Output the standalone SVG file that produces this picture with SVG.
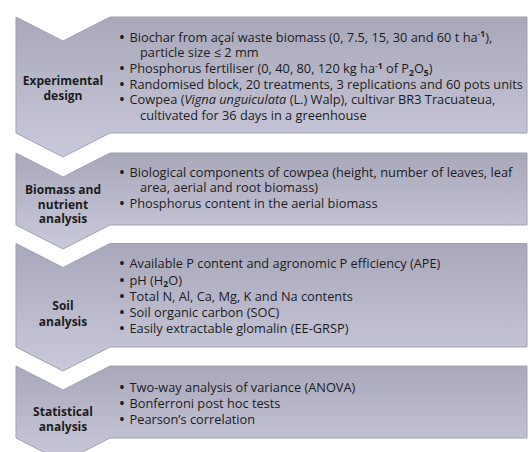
<svg xmlns="http://www.w3.org/2000/svg" width="530" height="452" viewBox="0 0 530 452">
<defs>
<linearGradient id="g" x1="0" y1="0" x2="0" y2="1">
<stop offset="0" stop-color="#a9a8bb"/>
<stop offset="1" stop-color="#c9c9db"/>
</linearGradient>
<style>
.blk{fill:url(#g);stroke:#a2a1b0;stroke-width:1}
text{font-family:"Open Sans","Noto Sans","DejaVu Sans",sans-serif;font-size:12.8px;fill:#1c1c1c}
.lbl{font-weight:bold;text-anchor:middle;font-size:12px}
.bul{text-anchor:middle;font-weight:bold}
.sup{font-size:8.5px}
.b{font-weight:bold}
</style>
</defs>
<rect width="530" height="452" fill="#ffffff"/>
<g id="experimental-design">
<path class="blk" d="M16,17 L63,41 L110,17 L527,17 L527,133 L110,133 L63,157 L16,133 Z"/>
<text class="lbl" x="63" y="84.5">Experimental</text>
<text class="lbl" x="63" y="100">design</text>
<text class="bul" x="122" y="41.5">•</text>
<text x="129.5" y="41.5">Biochar from açaí waste biomass (0, 7.5, 15, 30 and 60 t ha<tspan class="sup" dy="-4.5">-<tspan class="b">1</tspan></tspan><tspan dy="4.5">),</tspan></text>
<text x="140" y="57">particle size ≤ 2 mm</text>
<text class="bul" x="122" y="73">•</text>
<text x="129.5" y="73">Phosphorus fertiliser (0, 40, 80, 120 kg ha<tspan class="sup" dy="-4.5">-<tspan class="b">1</tspan></tspan><tspan dy="4.5"> of P</tspan><tspan class="sup b" dy="2.5">2</tspan><tspan dy="-2.5">O</tspan><tspan class="sup b" dy="2.5">5</tspan><tspan dy="-2.5">)</tspan></text>
<text class="bul" x="122" y="88.5">•</text>
<text x="129.5" y="88.5">Randomised block, 20 treatments, 3 replications and 60 pots units</text>
<text class="bul" x="122" y="104">•</text>
<text x="129.5" y="104">Cowpea (<tspan font-style="italic">Vigna unguiculata</tspan> (L.) Walp), cultivar BR3 Tracuateua,</text>
<text x="140" y="120">cultivated for 36 days in a greenhouse</text>
</g>
<g id="biomass-nutrient-analysis">
<path class="blk" d="M16,153 L63,177 L110,153 L527,153 L527,225 L110,225 L63,249 L16,225 Z"/>
<text class="lbl" x="63" y="194">Biomass and</text>
<text class="lbl" x="63" y="208.5">nutrient</text>
<text class="lbl" x="63" y="223">analysis</text>
<text class="bul" x="122" y="177">•</text>
<text x="129.5" y="177">Biological components of cowpea (height, number of leaves, leaf</text>
<text x="140" y="192">area, aerial and root biomass)</text>
<text class="bul" x="122" y="207.5">•</text>
<text x="129.5" y="207.5">Phosphorus content in the aerial biomass</text>
</g>
<g id="soil-analysis">
<path class="blk" d="M16,243.5 L63,267.5 L110,243.5 L527,243.5 L527,347 L110,347 L63,371 L16,347 Z"/>
<text class="lbl" x="63" y="310">Soil</text>
<text class="lbl" x="63" y="326">analysis</text>
<text class="bul" x="122" y="268">•</text>
<text x="129.5" y="268">Available P content and agronomic P efficiency (APE)</text>
<text class="bul" x="122" y="284.5">•</text>
<text x="129.5" y="284.5">pH (H<tspan class="sup b" dy="2.5">2</tspan><tspan dy="-2.5">O)</tspan></text>
<text class="bul" x="122" y="300.5">•</text>
<text x="129.5" y="300.5">Total N, Al, Ca, Mg, K and Na contents</text>
<text class="bul" x="122" y="317">•</text>
<text x="129.5" y="317">Soil organic carbon (SOC)</text>
<text class="bul" x="122" y="333">•</text>
<text x="129.5" y="333">Easily extractable glomalin (EE-GRSP)</text>
</g>
<g id="statistical-analysis">
<path class="blk" d="M16,366 L63,390 L110,366 L527,366 L527,438 L110,438 L63,462 L16,438 Z"/>
<text class="lbl" x="63" y="416">Statistical</text>
<text class="lbl" x="63" y="431">analysis</text>
<text class="bul" x="122" y="391.5">•</text>
<text x="129.5" y="391.5">Two-way analysis of variance (ANOVA)</text>
<text class="bul" x="122" y="408">•</text>
<text x="129.5" y="408">Bonferroni post hoc tests</text>
<text class="bul" x="122" y="424">•</text>
<text x="129.5" y="424">Pearson’s correlation</text>
</g>
<g id="connectors"/>
</svg>
